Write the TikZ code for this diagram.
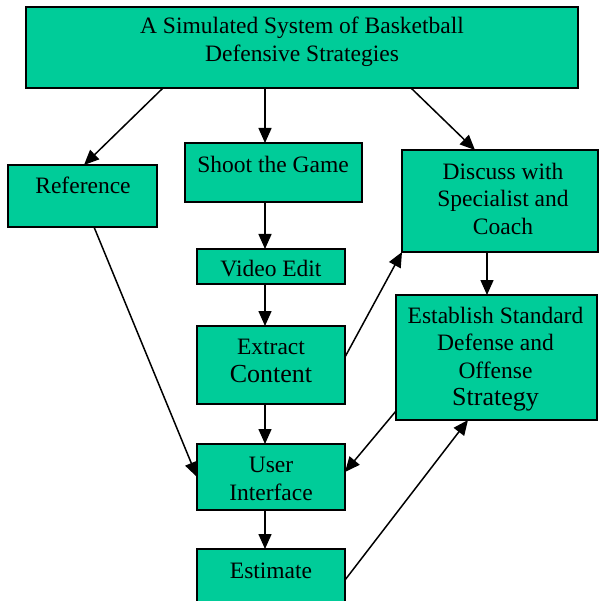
\documentclass[tikz,border=0pt]{standalone}
\usepackage{fontspec}
\setmainfont{Liberation Serif}
\usetikzlibrary{arrows.meta,calc}
\definecolor{boxgreen}{HTML}{00CC99}
\tikzset{
  box/.style={draw=black,fill=boxgreen,line width=1.6pt,inner sep=0pt,outer sep=0pt,rectangle},
  txt/.style={align=center,inner sep=0pt,font=\fontsize{23.5}{27.5}\selectfont},
  arr/.style={line width=1.5pt,-{Triangle[length=15pt,width=13pt]}}
}
\begin{document}
\begin{tikzpicture}[x=1pt,y=-1pt]
\clip (0,0) rectangle (599,601);
% boxes
\node[box,minimum width=552pt,minimum height=81pt] (top) at (302,47.5) {};
\node[box,minimum width=149pt,minimum height=62pt] (ref) at (82.5,196) {};
\node[box,minimum width=177pt,minimum height=59pt] (shoot) at (273.5,172.5) {};
\node[box,minimum width=196pt,minimum height=102pt] (discuss) at (500,201) {};
\node[box,minimum width=148pt,minimum height=35pt] (video) at (271,266.5) {};
\node[box,minimum width=148pt,minimum height=78pt] (extract) at (271,365) {};
\node[box,minimum width=201pt,minimum height=125pt] (establish) at (496.5,357.5) {};
\node[box,minimum width=148pt,minimum height=66pt] (ui) at (271,477) {};
\node[box,minimum width=148pt,minimum height=72pt] (estimate) at (271,585) {};
% texts
\node[txt] (ttop) at (302,42) {A Simulated System of Basketball\\Defensive Strategies};
\node[txt] (tref) at (83,185) {Reference};
\node[txt] (tshoot) at (273,164) {Shoot the Game};
\node[txt] (tdiscuss) at (503,198.5) {Discuss with\\Specialist and\\Coach};
\node[txt] (tvideo) at (271,268.5) {Video Edit};
\node[txt] (textract) at (271,361) {Extract\\{\fontsize{26}{29}\selectfont Content}};
\node[txt] (testablish) at (495.5,359) {Establish Standard\\Defense and\\Offense\\{\fontsize{26}{30}\selectfont Strategy}};
\node[txt] (tui) at (271,479) {User\\Interface};
\node[txt] (testimate) at (271,571) {Estimate};
% connectors
\draw[arr] ($(top.south west)+(137,0)$) -- ($(ref.north west)+(76,0)$);
\draw[arr] ($(top.south west)+(239,0)$) -- ($(shoot.north west)+(80,0)$);
\draw[arr] ($(top.south west)+(385,0)$) -- ($(discuss.north west)+(73,0)$);
\draw[arr] ($(shoot.south west)+(80,0)$) -- ($(video.north west)+(68,0)$);
\draw[arr] ($(video.south west)+(68,0)$) -- ($(extract.north west)+(68,0)$);
\draw[arr] ($(extract.north east)+(0,31)$) -- (discuss.south west);
\draw[arr] ($(discuss.south west)+(85,0)$) -- ($(establish.north west)+(91,0)$);
\draw[arr] ($(extract.south west)+(68,0)$) -- ($(ui.north west)+(68,0)$);
\draw[arr] ($(ref.south west)+(86,0)$) -- ($(ui.north west)+(0,33)$);
\draw[arr] ($(establish.south west)+(0,-9)$) -- ($(ui.north east)+(0,28)$);
\draw[arr] ($(estimate.north east)+(0,31)$) -- ($(establish.south west)+(72,0)$);
\draw[arr] ($(ui.south west)+(68,0)$) -- ($(estimate.north west)+(68,0)$);
\end{tikzpicture}
\end{document}
